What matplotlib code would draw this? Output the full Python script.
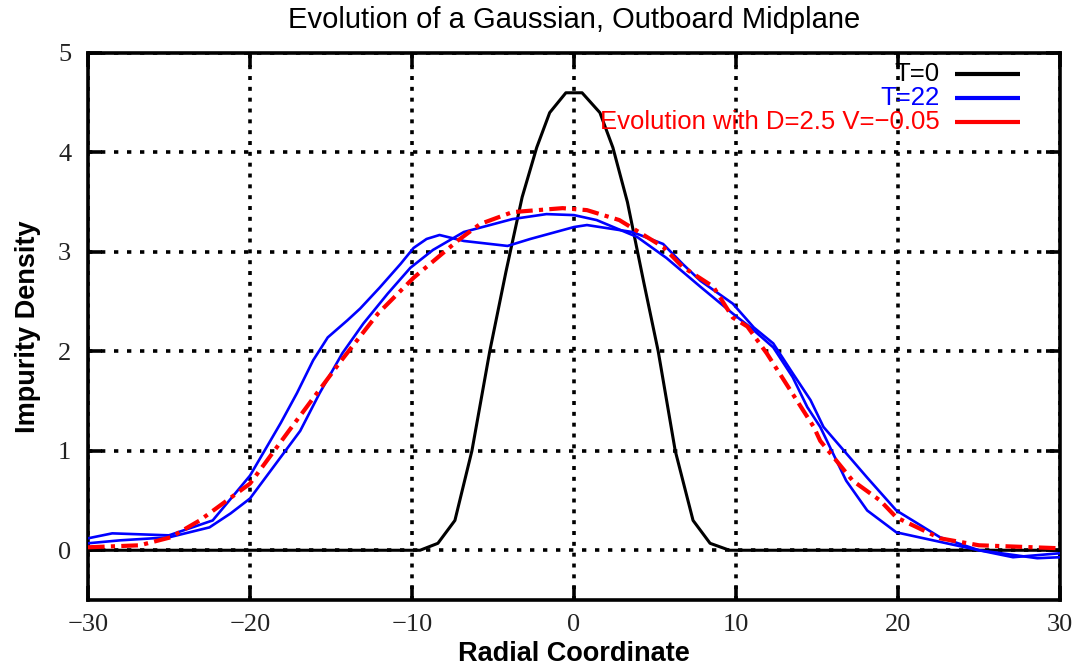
import matplotlib
matplotlib.use('Agg')
import matplotlib.pyplot as plt

# T=0 initial profile
x_t0 = [-30, -9.5, -8.4, -7.35, -6.3, -5.2, -4.2, -3.2, -2.3, -1.5, -0.5,
        0.5, 1.6, 2.4, 3.3, 4.3, 5.2, 6.25, 7.35, 8.4, 9.6, 30]
y_t0 = [0, 0, 0.07, 0.30, 1.0, 2.0, 2.8, 3.55, 4.05, 4.4, 4.6,
        4.6, 4.4, 4.05, 3.5, 2.7, 2.0, 1.0, 0.30, 0.07, 0, 0]

# T=22, first profile (with shoulder near -8)
x_t22a = [-30, -28.5, -25, -22.3, -20, -18.1, -17.1, -16.1, -15.2, -14.0, -13.2,
          -12.0, -10.7, -9.9, -9.1, -8.3, -6.8, -4.1, -2.7, 0, 0.8, 2.4, 3.6,
          5.5, 6.7, 7.8, 9.8, 11.1, 12.3, 13.5, 14.6, 15.4, 18.1, 19.9, 22.6,
          25, 27.1, 30]
y_t22a = [0.12, 0.17, 0.15, 0.30, 0.75, 1.28, 1.58, 1.91, 2.14, 2.31, 2.43,
          2.64, 2.88, 3.04, 3.13, 3.17, 3.11, 3.06, 3.13, 3.25, 3.27, 3.23, 3.2,
          3.08, 2.88, 2.71, 2.48, 2.24, 2.08, 1.78, 1.51, 1.24, 0.73, 0.4, 0.13,
          0.0, -0.07, -0.03]

# T=22, second profile
x_t22b = [-30, -28, -25, -22.5, -21.2, -20, -16.9, -15.7, -14.3, -13.0, -11.5,
          -10.1, -8.7, -6.8, -3.8, -1.7, 0, 1.4, 3.9, 5.7, 7.8, 9.8, 10.9,
          12.3, 13.5, 14.4, 15.2, 16.8, 18.1, 19.9, 23, 25, 28.6, 30]
y_t22b = [0.07, 0.1, 0.13, 0.23, 0.37, 0.52, 1.2, 1.58, 1.98, 2.28, 2.58,
          2.84, 3.02, 3.2, 3.33, 3.38, 3.37, 3.32, 3.15, 2.94, 2.65, 2.38, 2.24,
          2.04, 1.74, 1.44, 1.24, 0.7, 0.4, 0.18, 0.07, 0.0, -0.08, -0.07]

# model evolution D=2.5 V=-0.05
x_fit = [-30, -26.8, -24.9, -23.1, -20, -17.6, -14.4, -12.1, -9.9, -7.2, -5.8,
         -3.8, -0.7, 0.8, 2.8, 5.5, 6.7, 8.6, 9.8, 10.7, 11.9, 14.8, 15.2,
         17.2, 18.9, 19.9, 22.6, 25, 30]
y_fit = [0.03, 0.05, 0.13, 0.30, 0.67, 1.2, 1.9, 2.38, 2.74, 3.11, 3.28,
         3.40, 3.44, 3.42, 3.32, 3.05, 2.85, 2.65, 2.34, 2.25, 1.98, 1.24, 1.1,
         0.70, 0.5, 0.33, 0.12, 0.05, 0.02]

labels = ['T=0', 'T=22', 'Evolution with D=2.5 V=\u22120.05']
colors = ['black', '#0000ff', '#ff0000']

fig = plt.figure(figsize=(10.78, 6.70), dpi=100)
ax = fig.add_axes([0.0816, 0.1045, 0.9017, 0.8164])

ax.plot(x_t0, y_t0, color=colors[0], lw=2.2, zorder=3)
ax.plot(x_t22a, y_t22a, color=colors[1], lw=1.9, zorder=4)
ax.plot(x_t22b, y_t22b, color=colors[1], lw=1.9, zorder=4)
ax.plot(x_fit, y_fit, color=colors[2], lw=3, dashes=(4, 1.5, 1, 1.5), zorder=5)

ax.set_xlim(-30, 30)
ax.set_ylim(-0.5, 5)
ax.set_xticks([-30, -20, -10, 0, 10, 20, 30])
ax.set_yticks([0, 1, 2, 3, 4, 5])
ax.set_xticklabels(['\u221230', '\u221220', '\u221210', '0', '10', '20', '30'])

ax.xaxis.grid(True, color='black', lw=2.6, linestyle=(0, (1.1, 1.9)))
ax.yaxis.grid(True, color='black', lw=2.6, linestyle=(0, (1.2, 2.4)))
ax.set_axisbelow(True)

for s in ax.spines.values():
    s.set_linewidth(2.6)
ax.tick_params(direction='in', length=10, width=2.6, top=True, right=True,
               labelsize=19, colors='black')
ax.tick_params(axis='x', pad=10)
ax.tick_params(axis='y', pad=12)
for t in ax.get_xticklabels() + ax.get_yticklabels():
    t.set_family('Liberation Serif')
    t.set_color('#222222')

ax.set_xlabel('Radial Coordinate', family='Liberation Sans', weight='bold',
              fontsize=19.5, labelpad=4)
ax.set_ylabel('Impurity Density', family='Liberation Sans', weight='bold',
              fontsize=19.5, labelpad=12)
ax.set_title('Evolution of a Gaussian, Outboard Midplane', family='Liberation Sans',
             fontsize=21, pad=18)

# legend: right-aligned coloured labels, short solid lines on the right
row_y = [0.962, 0.918, 0.874]
for lab, c, yy in zip(labels, colors, row_y):
    ax.text(0.8765, yy, lab, color=c, transform=ax.transAxes, ha='right',
            va='center', family='Liberation Sans', fontsize=18.5, zorder=6)
    ax.plot([0.892, 0.959], [yy, yy], color=c, lw=3, transform=ax.transAxes,
            solid_capstyle='butt', zorder=6)

fig.savefig('out.png', dpi=100)
